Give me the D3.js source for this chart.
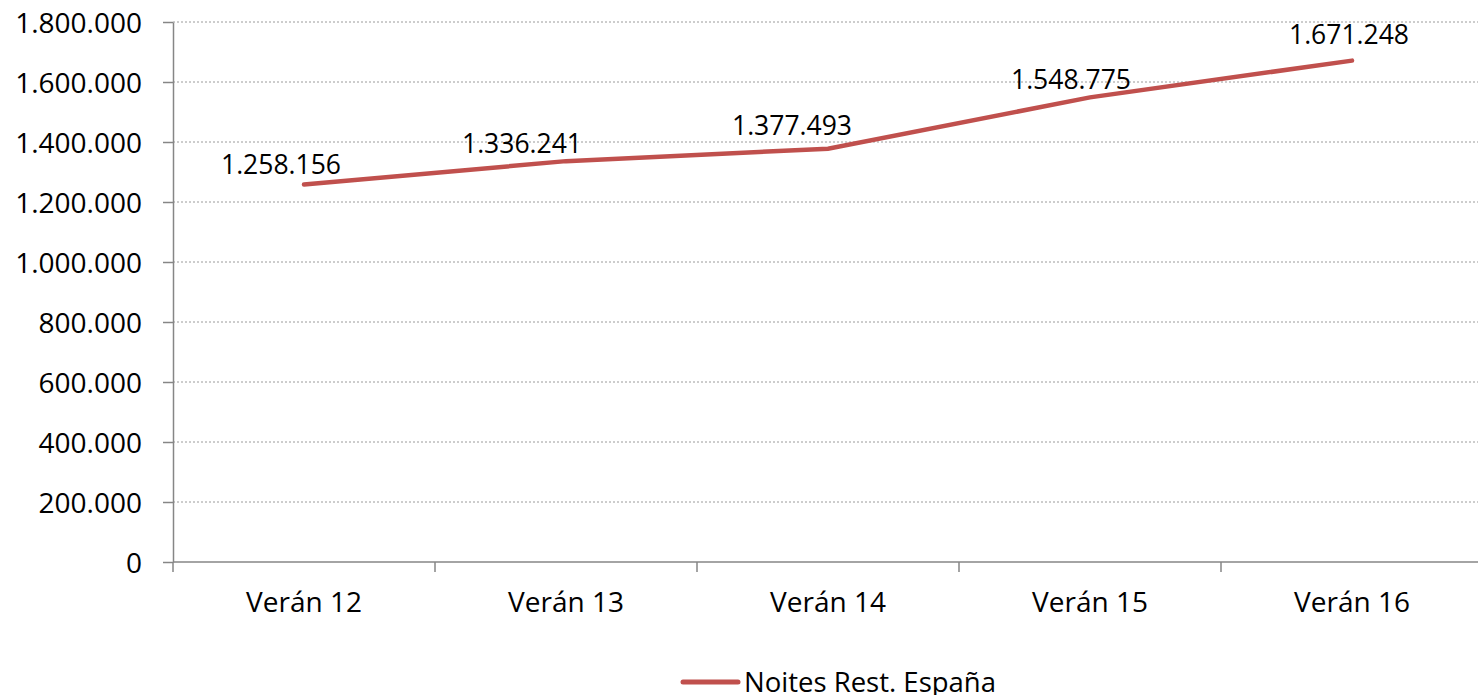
<!DOCTYPE html>
<html lang="gl">
<head>
  <meta charset="utf-8">
  <title>Noites Rest. España</title>
  <script src="https://d3js.org/d3.v7.min.js"></script>
  <style>
    body { margin: 0; background: #fff; }
    svg text { font-family: "Open Sans", sans-serif; fill: #000; }
    .grid line { stroke: #9a9a9a; stroke-width: 1; stroke-dasharray: 2,2; }
    .axis path, .axis line { stroke: #868686; stroke-width: 1.5; }
    .line { fill: none; stroke: #c0504d; stroke-width: 4.5px; stroke-linecap: round; }
  </style>
</head>
<body>
<svg width="1478" height="695"></svg>
<script>
// datos
var categorias = ["Verán 12", "Verán 13", "Verán 14", "Verán 15", "Verán 16"];
var noites = [1258156, 1336241, 1377493, 1548775, 1671248];
var serie = "Noites Rest. España";
var yTicks = [0, 200000, 400000, 600000, 800000, 1000000, 1200000, 1400000, 1600000, 1800000];

var fmt = function(v) {
  return String(v).replace(/\B(?=(\d{3})+(?!\d))/g, ".");
};

var svg = d3.select("svg"),
    margin = {top: 22, left: 173},
    width = 1310,
    height = 540,
    g = svg.append("g").attr("transform", "translate(" + margin.left + "," + margin.top + ")");

var x = d3.scaleBand().domain(categorias).range([0, width]),
    y = d3.scaleLinear().domain([0, 1800000]).range([height, 0]);

// grid
g.append("g").attr("class", "grid")
  .selectAll("line")
  .data(yTicks.filter(function(d) { return d > 0; }))
  .enter().append("line")
    .attr("x1", 0).attr("x2", width)
    .attr("y1", function(d) { return y(d); })
    .attr("y2", function(d) { return y(d); });

// y axis
var yAxis = g.append("g").attr("class", "axis")
  .call(d3.axisLeft(y).tickValues(yTicks).tickFormat(fmt).tickSize(10).tickSizeOuter(0).tickPadding(21));
yAxis.selectAll("text").style("font-size", "28px").attr("dy", "0.36em");

// x axis
var xAxis = g.append("g").attr("class", "axis")
  .attr("transform", "translate(0," + height + ")")
  .call(d3.axisBottom(x).tickSize(0).tickPadding(0));
xAxis.select(".domain").attr("d", "M0,0H" + width);
xAxis.selectAll(".tick text").style("font-size", "28px").attr("y", 50).attr("dy", 0);
// separadores entre categorias
xAxis.selectAll(".sep")
  .data(d3.range(categorias.length + 1))
  .enter().append("line").attr("class", "sep")
    .attr("x1", function(i) { return i * x.step(); })
    .attr("x2", function(i) { return i * x.step(); })
    .attr("y1", 0).attr("y2", 10);

var cx = function(i) { return x(categorias[i]) + x.bandwidth() / 2; };

var line = d3.line()
  .x(function(d, i) { return cx(i); })
  .y(function(d) { return y(d); });

g.append("path").datum(noites).attr("class", "line").attr("d", line);

// etiquetas (desprazadas como no orixinal)
var labelNudge = [[-23, -11], [-44, -8], [-36, -14], [-19, -8], [-3, -17]];
g.selectAll(".lbl")
  .data(noites)
  .enter().append("text").attr("class", "lbl")
    .attr("x", function(d, i) { return cx(i) + labelNudge[i][0]; })
    .attr("y", function(d, i) { return y(d) + labelNudge[i][1]; })
    .attr("text-anchor", "middle")
    .style("font-size", "26.5px")
    .text(fmt);

// lenda
var lg = svg.append("g").attr("transform", "translate(683,682)");
lg.append("line").attr("x1", 0).attr("x2", 55).attr("y1", 0).attr("y2", 0)
  .attr("stroke", "#c0504d").attr("stroke-width", 5).attr("stroke-linecap", "round");
lg.append("text").attr("x", 61).attr("y", 0).attr("dy", "0.36em")
  .style("font-size", "27.5px").text(serie);
</script>
</body>
</html>
